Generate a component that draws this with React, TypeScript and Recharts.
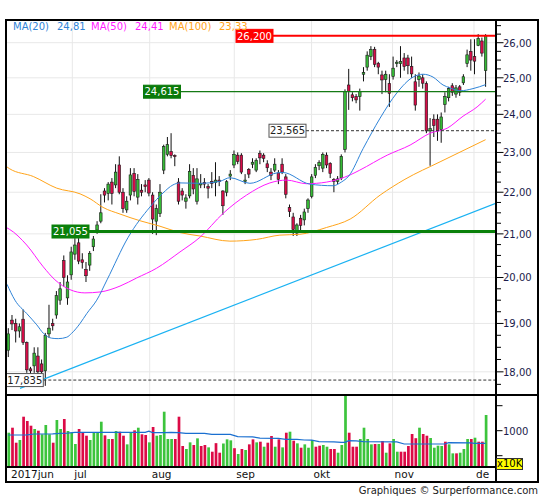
import React from "react";
import { ComposedChart, Bar, Line, XAxis, YAxis, ReferenceLine, CartesianGrid } from "recharts";

const FONT = "DejaVu Sans, Verdana, sans-serif";

// ---------- data ----------
const opens = [
  18.44, 19.07, 19.0, 18.84, 19.09, 18.6, 18.06, 18.12, 18.32, 18.16,
  18.02, 18.78, 19.0, 19.18, 19.5, 20.38, 19.55, 20.06, 20.53, 20.79,
  20.4, 20.18, 20.28, 20.7, 21.09, 21.3, 22.03, 21.97, 22.25, 22.18,
  22.68, 22.0, 21.57, 21.93, 22.47, 21.88, 22.05, 22.18, 22.3, 21.93,
  21.3, 21.48, 22.55, 22.95, 23.02, 22.92, 22.25, 22.03, 21.78, 21.91,
  22.42, 21.78, 22.18, 22.24, 22.14, 22.27, 22.24, 22.3, 22.03, 22.0,
  22.4, 22.68, 22.93, 22.93, 22.27, 22.57, 22.7, 22.55, 22.97, 22.93,
  22.71, 22.5, 22.55, 22.48, 22.7, 22.38, 21.63, 21.4, 21.02, 21.37,
  21.33, 21.6, 21.9, 22.42, 22.66, 22.6, 22.93, 22.72, 22.32, 22.27,
  22.35, 23.08, 24.8, 24.53, 24.48, 24.48, 25.1, 25.3, 25.6, 25.81,
  25.41, 25.08, 24.95, 24.84, 25.04, 25.4, 25.4, 25.56, 25.56, 25.32,
  24.89, 24.95, 25.0, 24.84, 23.56, 23.87, 23.87, 23.6, 24.27, 24.45,
  24.78, 24.55, 24.75, 24.86, 25.4, 25.75, 25.6, 25.92, 26.05, 25.2,
];
const highs = [
  18.9, 19.18, 19.1, 19.0, 19.3, 18.62, 18.1, 18.5, 18.5, 18.25,
  18.8, 19.4, 19.1, 19.7, 19.9, 20.5, 20.05, 20.7, 20.9, 20.9,
  20.55, 20.35, 20.6, 20.95, 21.3, 21.95, 22.1, 22.25, 22.35, 22.7,
  22.9, 22.1, 21.9, 22.6, 22.6, 22.45, 22.2, 22.3, 22.35, 22.0,
  21.7, 22.2, 23.2, 23.4, 23.5, 22.95, 22.35, 22.1, 21.95, 22.7,
  22.6, 22.6, 22.45, 22.35, 22.2, 22.5, 22.75, 22.4, 22.05, 22.3,
  22.55, 23.05, 23.0, 22.98, 22.45, 22.6, 22.85, 22.85, 23.05, 22.98,
  22.8, 22.6, 22.85, 22.55, 22.85, 22.45, 21.7, 21.5, 21.25, 21.45,
  21.6, 21.85, 22.45, 22.7, 22.8, 23.0, 23.0, 22.75, 22.35, 22.4,
  22.95, 24.68, 25.25, 24.6, 24.55, 24.7, 25.3, 25.75, 25.9, 25.88,
  25.45, 25.2, 25.2, 25.1, 25.6, 25.5, 25.9, 25.7, 25.65, 25.6,
  25.1, 25.15, 25.1, 24.9, 23.9, 24.0, 24.0, 24.05, 24.6, 24.75,
  24.85, 24.8, 24.8, 25.1, 25.8, 26.1, 26.1, 26.25, 26.15, 26.25,
];
const lows = [
  18.3, 18.86, 18.6, 18.7, 18.55, 17.98, 17.95, 17.98, 17.72, 17.72,
  17.72, 18.7, 18.85, 19.1, 19.4, 19.8, 19.4, 19.95, 20.4, 20.3,
  20.2, 19.9, 20.15, 20.6, 21.0, 21.25, 21.75, 21.8, 21.7, 22.1,
  21.95, 21.5, 21.5, 21.8, 21.9, 21.7, 21.9, 22.0, 21.9, 21.0,
  20.97, 21.4, 22.45, 22.9, 22.85, 22.65, 21.7, 21.8, 21.6, 21.85,
  21.95, 21.7, 22.1, 22.1, 21.85, 22.1, 21.9, 22.15, 21.45, 21.9,
  22.3, 22.6, 22.7, 22.45, 22.2, 22.35, 22.6, 22.5, 22.7, 22.75,
  22.5, 22.3, 22.5, 22.2, 22.45, 21.85, 21.4, 20.95, 20.95, 21.05,
  21.2, 21.5, 21.85, 22.35, 22.55, 22.5, 22.6, 22.35, 22.0, 22.2,
  22.3, 23.0, 24.12, 24.35, 24.3, 24.1, 24.9, 25.2, 25.5, 25.3,
  25.1, 24.55, 24.6, 24.2, 24.95, 25.3, 25.0, 25.2, 25.1, 25.0,
  24.1, 24.75, 24.7, 23.5, 22.66, 23.4, 23.3, 23.25, 24.05, 24.35,
  24.5, 24.45, 24.5, 24.8, 25.3, 25.2, 25.1, 25.9, 25.6, 24.75,
];
const closes = [
  18.78, 18.99, 18.84, 18.93, 18.6, 18.04, 18.02, 18.38, 18.0, 18.0,
  18.75, 18.9, 18.95, 19.6, 19.75, 20.0, 19.9, 20.58, 20.74, 20.37,
  20.34, 20.04, 20.55, 20.88, 21.21, 21.5, 21.93, 22.2, 21.97, 22.5,
  22.0, 21.6, 21.78, 22.43, 22.02, 22.32, 22.0, 22.14, 21.98, 21.35,
  21.6, 22.0, 23.15, 23.2, 22.92, 22.9, 21.78, 21.93, 21.86, 22.52,
  22.08, 22.33, 22.22, 22.2, 22.1, 22.22, 22.3, 22.26, 21.67, 22.26,
  22.45, 22.95, 22.77, 22.5, 22.3, 22.45, 22.75, 22.8, 22.86, 22.85,
  22.61, 22.42, 22.7, 22.32, 22.5, 21.95, 21.53, 21.1, 21.21, 21.2,
  21.52, 21.81, 22.38, 22.62, 22.74, 22.95, 22.68, 22.47, 22.27, 22.33,
  22.9, 24.62, 24.62, 24.45, 24.39, 24.62, 25.15, 25.64, 25.8, 25.38,
  25.3, 24.94, 25.1, 24.57, 25.27, 25.44, 25.46, 25.32, 25.34, 25.11,
  24.25, 25.05, 24.85, 23.56, 23.62, 23.7, 23.56, 23.93, 24.48, 24.7,
  24.6, 24.72, 24.6, 25.03, 25.65, 25.5, 25.47, 26.12, 25.7, 26.2,
];

// volume in units of 10K
const volumes = [
  960, 1060, 760, 814, 1280, 1194, 1100, 1034, 1000, 928,
  1114, 928, 760, 1214, 1034, 1234, 994, 960, 734, 1034,
  960, 900, 814, 962, 962, 1180, 907, 834, 834, 994,
  980, 900, 727, 962, 1007, 1060, 928, 914, 767, 1074,
  900, 914, 1380, 834, 834, 834, 1280, 694, 634, 767,
  714, 847, 694, 714, 667, 580, 751, 560, 744, 827,
  807, 650, 534, 634, 614, 727, 827, 767, 780, 680,
  760, 894, 680, 827, 667, 960, 980, 800, 747, 660,
  727, 660, 814, 680, 700, 714, 680, 634, 634, 560,
  714, 1694, 960, 680, 680, 834, 1060, 834, 727, 734,
  734, 794, 560, 747, 834, 580, 580, 580, 694, 934,
  850, 1060, 934, 900, 854, 660, 700, 694, 780, 727,
  547, 547, 560, 634, 834, 834, 860, 780, 780, 1314,
];
// G = up day, R = down day (volume bar colour)
const volumeDir =
  "GRRGRRRGRG" + "GGRGGRGGGR" + "RRGGGGRGRG" + "RRGGRGRRGR" + "GGGGGRRRGG" +
  "RGRRGRRRGG" + "GRGRGRRGRG" + "RRGRGRGRGR" + "GGGRRGGRRG" + "GGRRRGGGGR" +
  "GRGRGGRRRR" + "RGRRGGGGRG" + "GRGGGRGRRG";

// moving averages [index, value]
const ma20Pts = [
  [-0.35, 19.85], [1.8, 19.5], [5, 19.21], [7.7, 18.97], [9.5, 18.79], [11.7, 18.69],
  [13.5, 18.68], [15.8, 18.71], [17.1, 18.79], [19.4, 19.0], [21.2, 19.21], [23.9, 19.5],
  [26.7, 19.95], [32.4, 20.92], [38.3, 21.64], [41.8, 21.98], [44.5, 22.18], [46.4, 22.23],
  [51.8, 22.22], [57.2, 22.27], [59.9, 22.36], [65.3, 22.22], [72.6, 22.48], [74.2, 22.49],
  [81.5, 22.2], [87.8, 22.16], [90, 22.25], [92, 22.4], [95.9, 23.1], [100.5, 23.9],
  [105, 24.58], [109.4, 25.02], [112.1, 25.1], [114.8, 25.02], [117.5, 24.8], [119.4, 24.72],
  [122.1, 24.64], [125.6, 24.7], [129, 24.81],
];
const ma50Pts = [
  [-0.35, 21.14], [0.27, 21.11], [4.97, 20.74], [9.46, 20.24], [12.6, 19.95], [16.7, 19.73],
  [20.7, 19.66], [24.8, 19.68], [30.2, 19.81], [34.7, 19.99], [40.1, 20.21], [46.4, 20.58],
  [51.8, 20.92], [58.1, 21.49], [64.4, 21.93], [70.7, 22.23], [75.2, 22.3], [80.6, 22.21],
  [86, 22.25], [92.4, 22.43], [95, 22.55], [102.4, 22.93], [108.6, 23.19], [114, 23.5],
  [118.6, 23.63], [122.9, 23.95], [126.7, 24.2], [129, 24.41],
];
const ma100Pts = [
  [-0.35, 22.63], [0.27, 22.59], [6.76, 22.39], [13.1, 22.1], [19.4, 21.96], [22.1, 21.84],
  [25.6, 21.63], [30.2, 21.47], [35.6, 21.31], [41, 21.18], [46.4, 21.03], [51.8, 20.95],
  [59.9, 20.83], [67.1, 20.87], [73.4, 20.97], [78.8, 20.99], [86, 21.15], [92.4, 21.35],
  [100.5, 21.93], [107.2, 22.32], [116.7, 22.76], [129, 23.33],
];
const trendPts = [[3.16, 17.67], [132.08, 21.74]];
const volMaPts = [
  [0, 914], [5, 916], [7, 934], [12, 936], [14, 947], [16, 950], [18, 967], [37, 967],
  [38, 990], [39, 962], [42, 962], [44, 967], [46, 962], [48, 947], [53, 945], [55, 927],
  [60, 925], [62, 882], [66, 878], [68, 850], [73, 848], [75, 827], [78, 825], [80, 814],
  [82, 812], [84, 780], [88, 778], [90, 767], [91, 767], [92, 800], [94, 798], [96, 780],
  [105, 778], [107, 734], [118, 734], [119, 760], [125, 758], [126, 747], [129, 747],
];

const maLegend = [
  { name: "MA(20)", value: "24,81" },
  { name: "MA(50)", value: "24,41" },
  { name: "MA(100)", value: "23,33" },
];

const monthPos = [0.19, 17.3, 38.22, 61.08, 81.97, 103.86, 125.86];
const monthLabels = ["2017jun", "jul", "aug", "sep", "okt", "nov", "de"];
const gridPrices = [18, 19, 20, 21, 22, 23, 24, 25, 26];
const priceTicks = [
  17.75, 18, 18.25, 18.5, 18.75, 19, 19.25, 19.5, 19.75, 20, 20.25, 20.5, 20.75,
  21, 21.25, 21.5, 21.75, 22, 22.25, 22.5, 22.75, 23, 23.25, 23.5, 23.75, 24,
  24.25, 24.5, 24.75, 25, 25.25, 25.5, 25.75, 26, 26.25, 26.5,
];
const volTicks = [500, 1000, 1500];
const levelValues = { high: 26.2, res: 24.615, mid: 23.565, sup: 21.055, low: 17.835 };

// ---------- derived tables ----------
const candleRows = opens.map((o, i) => ({
  i, o, h: highs[i], l: lows[i], c: closes[i], range: [lows[i], highs[i]],
}));
const volRows = volumes.map((v, i) => ({ i, v, up: volumeDir[i] === "G" }));
const toPts = (a: number[][]) => a.map(([i, v]) => ({ i, v }));
const ma20 = toPts(ma20Pts);
const ma50 = toPts(ma50Pts);
const ma100 = toPts(ma100Pts);
const trend = toPts(trendPts);
const volMa = toPts(volMaPts);

const X_DOMAIN: [number, number] = [-0.35, 132.08];
const GREEN = "#36b936";
const RED = "#d80c48";
const C20 = "#2f84d8";
const C50 = "#ff1aff";
const C100 = "#ffa41a";

const fmt = (v: number, d: number) => v.toFixed(d).replace(".", ",");

const Candle = (props: any) => {
  const { x, y, width, height, payload } = props;
  if (x == null || y == null || !payload) return null;
  const top = Math.min(y, y + height);
  const h = Math.abs(height);
  const lh = Math.log(payload.h);
  const ll = Math.log(payload.l);
  const py = (v: number) => (lh === ll ? top : top + (h * (lh - Math.log(v))) / (lh - ll));
  const yo = py(payload.o);
  const yc = py(payload.c);
  const up = payload.c >= payload.o;
  const cx = x + width / 2;
  const bt = Math.min(yo, yc);
  const bh = Math.max(Math.abs(yc - yo), 1);
  return (
    <g>
      <line x1={cx} x2={cx} y1={top} y2={top + h} stroke="#111" strokeWidth={1} />
      <rect x={cx - 1.3} y={bt} width={2.6} height={bh} fill={up ? GREEN : RED} stroke="#1a1a1a" strokeWidth={0.6} />
    </g>
  );
};

const VolBar = (props: any) => {
  const { x, y, width, height, payload } = props;
  if (x == null || y == null || !payload) return null;
  return <rect x={x} y={y} width={width} height={Math.max(height, 0)} fill={payload.up ? "#3cc43c" : "#dc0a46"} />;
};

const PriceTick = (props: any) => {
  const { x, y, payload } = props;
  const v = payload.value as number;
  const major = Math.abs(v - Math.round(v)) < 1e-6;
  return (
    <g>
      <line x1={x} x2={x + (major ? 6.5 : 4)} y1={y} y2={y} stroke="#000" strokeWidth={1} />
      {major && (
        <text x={x + 6} y={y + 3.8} fontSize={10} fill="#1c1c4c" fontFamily={FONT}>
          {fmt(v, 2)}
        </text>
      )}
    </g>
  );
};

const VolTick = (props: any) => {
  const { x, y, payload } = props;
  const v = payload.value as number;
  return (
    <g>
      <line x1={x} x2={x + 5.5} y1={y} y2={y} stroke="#000" strokeWidth={1} />
      {v === 1000 && (
        <text x={x + 6} y={y + 3.8} fontSize={10} fill="#1c1c4c" fontFamily={FONT}>
          {String(v)}
        </text>
      )}
    </g>
  );
};

const MonthTick = (props: any) => {
  const { x, y, payload } = props;
  const idx = monthPos.indexOf(payload.value);
  return (
    <text x={x + 2} y={y + 10.7} fontSize={10.5} fill="#111" fontFamily={FONT}>
      {monthLabels[idx] ?? ""}
    </text>
  );
};

const levelBox = (text: string, fill: string, stroke: string, color: string) => (p: any) => {
  const vb = p.viewBox;
  if (!vb) return null;
  const w = 37;
  const h = 13;
  return (
    <g>
      <rect x={vb.x - w} y={vb.y - h / 2} width={w} height={h} fill={fill} stroke={stroke} strokeWidth={1} />
      <text x={vb.x - w / 2} y={vb.y + 3.7} textAnchor="middle" fontSize={10} fill={color} fontFamily={FONT}>
        {text}
      </text>
    </g>
  );
};

const seg = (from: number, v: number) => [
  { x: from, y: v },
  { x: X_DOMAIN[1], y: v },
];

export default function App() {
  return (
    <div style={{ position: "absolute", left: 0, top: 0, width: 545, height: 500, background: "#fff", overflow: "hidden", fontFamily: FONT }}>
      <div style={{ position: "absolute", left: 0, top: 0 }}>
        <ComposedChart width={545} height={395} data={candleRows} margin={{ top: 20, right: 0, bottom: 0, left: 7 }}>
          <CartesianGrid stroke="#e8e8e8" strokeWidth={1} horizontalValues={gridPrices} verticalValues={monthPos.slice(1)} />
          <XAxis dataKey="i" type="number" domain={X_DOMAIN} allowDataOverflow hide />
          <YAxis
            orientation="right"
            scale="log"
            type="number"
            domain={[17.54, 26.668]}
            allowDataOverflow
            ticks={priceTicks}
            interval={0}
            width={48}
            axisLine={false}
            tickLine={false}
            tickSize={0}
            tickMargin={0}
            tick={(p: any) => <PriceTick {...p} />}
          />
          <Line data={trend} dataKey="v" type="linear" stroke="#1ab2f2" strokeWidth={1.2} dot={false} isAnimationActive={false} />
          <Line data={ma100} dataKey="v" type="monotone" stroke={C100} strokeWidth={1} dot={false} isAnimationActive={false} />
          <Line data={ma50} dataKey="v" type="monotone" stroke={C50} strokeWidth={1} dot={false} isAnimationActive={false} />
          <Line data={ma20} dataKey="v" type="monotone" stroke={C20} strokeWidth={1} dot={false} isAnimationActive={false} />
          <Bar dataKey="range" barSize={3} shape={(p: any) => <Candle {...p} />} isAnimationActive={false} />
          <ReferenceLine segment={seg(71.54, levelValues.high)} stroke="#ff0000" strokeWidth={2}
            label={levelBox(fmt(levelValues.high, 3), "#ff0000", "#ff0000", "#fff")} />
          <ReferenceLine segment={seg(46.54, levelValues.res)} stroke="#157a15" strokeWidth={1.3}
            label={levelBox(fmt(levelValues.res, 3), "#0a7a0a", "#0a7a0a", "#fff")} />
          <ReferenceLine segment={seg(80.46, levelValues.mid)} stroke="#333" strokeWidth={1} strokeDasharray="3 2"
            label={levelBox(fmt(levelValues.mid, 3), "#fff", "#555", "#222")} />
          <ReferenceLine segment={seg(21.81, levelValues.sup)} stroke="#0a800a" strokeWidth={3}
            label={levelBox(fmt(levelValues.sup, 3), "#0a800a", "#0a800a", "#fff")} />
          <ReferenceLine segment={seg(9.46, levelValues.low)} stroke="#333" strokeWidth={1} strokeDasharray="3 2"
            label={levelBox(fmt(levelValues.low, 3), "#fff", "#555", "#222")} />
        </ComposedChart>
      </div>

      <div style={{ position: "absolute", left: 0, top: 395 }}>
        <ComposedChart width={545} height={87} data={volRows} margin={{ top: 0, right: 0, bottom: 0, left: 7 }}>
          <CartesianGrid stroke="#e8e8e8" strokeWidth={1} horizontal={false} verticalValues={monthPos.slice(1)} />
          <XAxis
            dataKey="i"
            type="number"
            domain={X_DOMAIN}
            allowDataOverflow
            ticks={monthPos}
            interval={0}
            height={15}
            axisLine={false}
            tickLine={false}
            tickSize={0}
            tickMargin={0}
            tick={(p: any) => <MonthTick {...p} />}
          />
          <YAxis
            orientation="right"
            type="number"
            domain={[274, 1714]}
            allowDataOverflow
            ticks={volTicks}
            interval={0}
            width={48}
            axisLine={false}
            tickLine={false}
            tickSize={0}
            tickMargin={0}
            tick={(p: any) => <VolTick {...p} />}
          />
          <Bar dataKey="v" barSize={2.7} shape={(p: any) => <VolBar {...p} />} isAnimationActive={false} />
          <Line data={volMa} dataKey="v" type="linear" stroke="#1a6fd0" strokeWidth={1.2} dot={false} isAnimationActive={false} />
        </ComposedChart>
      </div>

      {/* frame and panel separators */}
      <div style={{ position: "absolute", left: 5, top: 19, width: 534, height: 464, border: "2px solid #000", boxSizing: "border-box" }} />
      <div style={{ position: "absolute", left: 495, top: 20, width: 1.6, height: 462, background: "#000" }} />
      <div style={{ position: "absolute", left: 6, top: 394, width: 533, height: 2, background: "#000" }} />
      <div style={{ position: "absolute", left: 6, top: 466.3, width: 490, height: 2, background: "#000" }} />

      {/* legend */}
      <span style={{ position: "absolute", left: 13, top: 21, fontSize: 10, lineHeight: "12px", color: C20, whiteSpace: "nowrap" }}>{maLegend[0].name}</span>
      <span style={{ position: "absolute", left: 57, top: 21, fontSize: 10, lineHeight: "12px", color: C20, whiteSpace: "nowrap" }}>{maLegend[0].value}</span>
      <span style={{ position: "absolute", left: 91, top: 21, fontSize: 10, lineHeight: "12px", color: C50, whiteSpace: "nowrap" }}>{maLegend[1].name}</span>
      <span style={{ position: "absolute", left: 135, top: 21, fontSize: 10, lineHeight: "12px", color: C50, whiteSpace: "nowrap" }}>{maLegend[1].value}</span>
      <span style={{ position: "absolute", left: 169, top: 21, fontSize: 10, lineHeight: "12px", color: C100, whiteSpace: "nowrap" }}>{maLegend[2].name}</span>
      <span style={{ position: "absolute", left: 219, top: 21, fontSize: 10, lineHeight: "12px", color: C100, whiteSpace: "nowrap" }}>{maLegend[2].value}</span>

      {/* volume unit box */}
      <div style={{ position: "absolute", left: 496, top: 458, width: 27, height: 12, background: "#ffff00", border: "1px solid #333", boxSizing: "border-box", fontSize: 10, lineHeight: "10px", textAlign: "center", color: "#000" }}>x10K</div>

      {/* footer */}
      <div style={{ position: "absolute", left: 200, width: 338, top: 485, fontSize: 10, lineHeight: "12px", textAlign: "right", color: "#222", whiteSpace: "nowrap" }}>
        Graphiques © Surperformance.com
      </div>
    </div>
  );
}
